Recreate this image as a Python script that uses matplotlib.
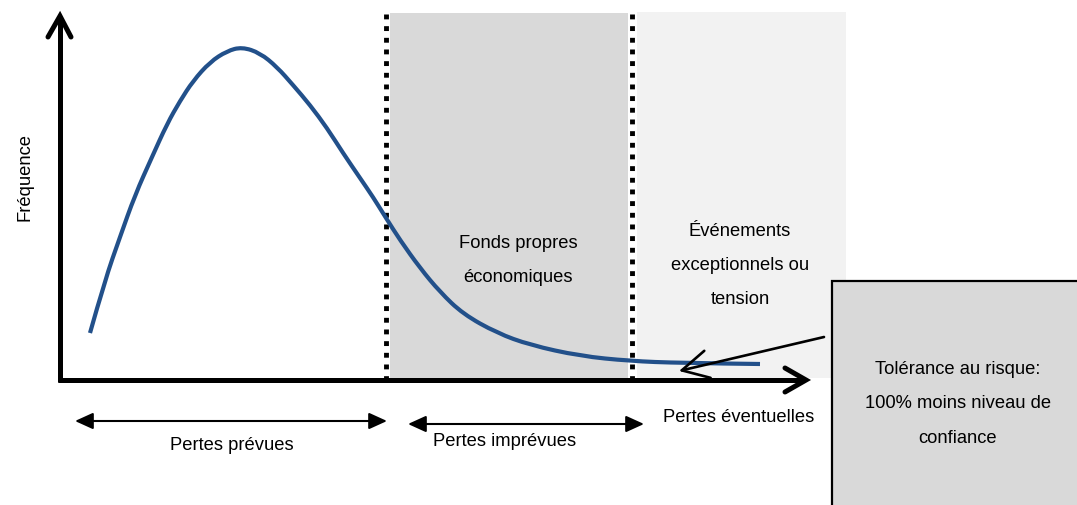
import matplotlib
matplotlib.use("Agg")
import matplotlib.pyplot as plt
from matplotlib.patches import Rectangle, PathPatch
from matplotlib.path import Path

plt.rcParams['font.family'] = ['Liberation Sans', 'DejaVu Sans']

# courbe de distribution des pertes (repere en pixels)
curve_x = [90, 105, 120, 135, 152, 167, 180, 193, 210, 227, 242, 260, 277, 293, 310,
           327, 343, 360, 373, 386, 400, 420, 440, 463, 497, 530, 580, 630, 680, 760]
curve_y = [333, 280, 237, 195, 157, 124, 101, 81, 62, 51, 47, 53, 67, 85, 105,
           128, 153, 178, 197, 218, 240, 268, 292, 314, 333, 345, 356, 361, 363, 364]

seuils = [386, 632]          # limites des zones (pointilles)
zone_labels = ["Fonds propres\n\néconomiques", "Événements\n\nexceptionnels ou\n\ntension"]
bas_labels = ["Pertes prévues", "Pertes imprévues"]
axe_x_label = "Pertes éventuelles"
axe_y_label = "Fréquence"
boite_label = "Tolérance au risque:\n\n100% moins niveau de\n\nconfiance"

fig = plt.figure(figsize=(10.77, 5.05), dpi=100)
ax = fig.add_axes([0, 0, 1, 1])
ax.set_xlim(0, 1077)
ax.set_ylim(505, 0)
ax.axis('off')

# zones grisees
ax.add_patch(Rectangle((seuils[0] + 4, 13), seuils[1] - seuils[0] - 8, 365,
                       facecolor='#d9d9d9', edgecolor='none', zorder=0))
ax.add_patch(Rectangle((seuils[1] + 5, 12), 846 - seuils[1] - 5, 366,
                       facecolor='#f2f2f2', edgecolor='none', zorder=0))

# pointilles
for s in seuils:
    ax.plot([s, s], [14, 378], color='black', lw=3.5,
            linestyle=(0, (1, 1.4)), solid_capstyle='butt', dash_capstyle='butt', zorder=2)

# axes
ax.plot([60, 60], [382, 17], color='black', lw=3.6, solid_capstyle='butt', zorder=3)
ax.plot([48, 60, 71], [37, 16, 37], color='black', lw=3.6,
        solid_capstyle='round', solid_joinstyle='miter', zorder=3)
ax.plot([58, 804], [380, 380], color='black', lw=3.6, solid_capstyle='butt', zorder=3)
ax.plot([785, 806, 785], [368, 380, 392], color='black', lw=3.6,
        solid_capstyle='round', solid_joinstyle='miter', zorder=3)

# courbe lissee : points lus = points de controle de Bezier quadratiques
pts = list(zip(curve_x, curve_y))
verts = [pts[0]]
codes = [Path.MOVETO]
for i in range(1, len(pts) - 1):
    mid = ((pts[i][0] + pts[i + 1][0]) / 2, (pts[i][1] + pts[i + 1][1]) / 2)
    if i == len(pts) - 2:
        mid = pts[-1]
    verts += [pts[i], mid]
    codes += [Path.CURVE3, Path.CURVE3]
ax.add_patch(PathPatch(Path(verts, codes), facecolor='none', edgecolor='#22508a',
                       lw=3.0, capstyle='butt', joinstyle='round', zorder=4))

# textes des zones
ax.text(518, 260, zone_labels[0], ha='center', va='center', fontsize=13.2,
        linespacing=1.0, zorder=5)
ax.text(740, 265, zone_labels[1], ha='center', va='center', fontsize=13.2,
        linespacing=1.0, zorder=5)

ax.text(25, 177, axe_y_label, rotation=90, ha='center', va='center', fontsize=13.2)
ax.text(739, 418, axe_x_label, ha='center', va='center', fontsize=13.2)

# fleches doubles
style = "<|-|>,head_length=0.55,head_width=0.25"
ax.annotate("", xy=(387, 421), xytext=(75, 421),
            arrowprops=dict(arrowstyle=style, color='black', lw=1.5,
                            shrinkA=0, shrinkB=0, mutation_scale=20))
ax.annotate("", xy=(644, 424), xytext=(408, 424),
            arrowprops=dict(arrowstyle=style, color='black', lw=1.5,
                            shrinkA=0, shrinkB=0, mutation_scale=20))
ax.text(232, 445, bas_labels[0], ha='center', va='center', fontsize=13.2)
ax.text(505, 441, bas_labels[1], ha='center', va='center', fontsize=13.2)

# boite tolerance
ax.add_patch(Rectangle((832, 281), 260, 240, facecolor='#d9d9d9',
                       edgecolor='black', lw=1.6, zorder=5))
ax.text(958, 404, boite_label, ha='center', va='center', fontsize=13.2,
        linespacing=1.03, zorder=6)

ax.annotate("", xy=(679, 371), xytext=(824, 337),
            arrowprops=dict(arrowstyle="->,head_length=0.95,head_width=0.5",
                            color='black', lw=1.9, shrinkA=0, shrinkB=0,
                            mutation_scale=20), zorder=6)

fig.savefig("out.png", dpi=100)
